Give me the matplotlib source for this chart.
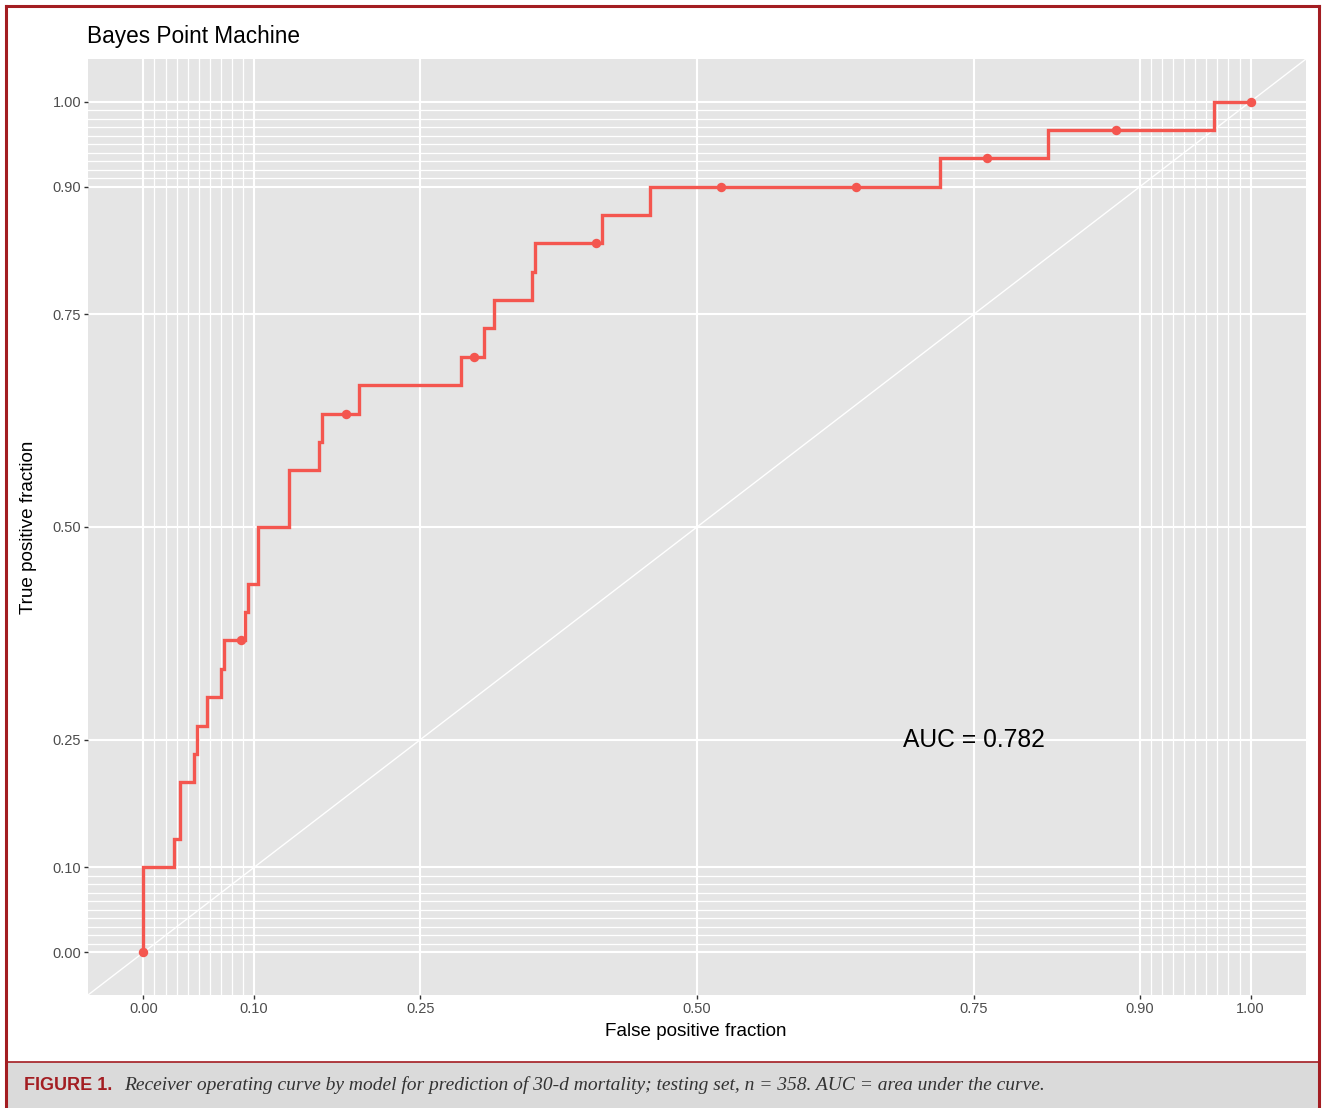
import numpy as np
import matplotlib.pyplot as plt
from matplotlib.patches import Rectangle
from matplotlib.lines import Line2D

plt.rcParams['font.family'] = ['Liberation Sans', 'DejaVu Sans']

# ROC curve: x where the curve steps up, y it reaches there
fpf_steps = [0.0, 0.0, 0.0274, 0.0335, 0.0457, 0.0488, 0.0579, 0.0701, 0.0732,
             0.0915, 0.0945, 0.1037, 0.1311, 0.1585, 0.1616, 0.1951, 0.2866,
             0.3079, 0.3171, 0.3506, 0.3537, 0.4146, 0.4573, 0.7195, 0.8171,
             0.9665, 1.0]
tpf_steps = [0.0, 0.1, 0.1333, 0.2, 0.2333, 0.2667, 0.3, 0.3333, 0.3667,
             0.4, 0.4333, 0.5, 0.5667, 0.6, 0.6333, 0.6667, 0.7, 0.7333,
             0.7667, 0.8, 0.8333, 0.8667, 0.9, 0.9333, 0.9667, 1.0, 1.0]

# cutoff markers along the curve
cut_fpf = [0.0, 0.0884, 0.1829, 0.2988, 0.4085, 0.5213, 0.6433, 0.7622, 0.878, 1.0]
cut_tpf = [0.0, 0.3667, 0.6333, 0.7, 0.8333, 0.9, 0.9, 0.9333, 0.9667, 1.0]

major_breaks = [0.0, 0.1, 0.25, 0.5, 0.75, 0.9, 1.0]
break_labels = ['0.00', '0.10', '0.25', '0.50', '0.75', '0.90', '1.00']
minor_breaks = [0.01, 0.02, 0.03, 0.04, 0.05, 0.06, 0.07, 0.08, 0.09,
                0.91, 0.92, 0.93, 0.94, 0.95, 0.96, 0.97, 0.98, 0.99]

auc_text = 'AUC = 0.782'
title = 'Bayes Point Machine'
caption = ('Receiver operating curve by model for prediction of 30-d mortality; '
           'testing set, n = 358. AUC = area under the curve.')

W, H = 1322, 1108
fig = plt.figure(figsize=(W / 100, H / 100), dpi=100)
fig.patch.set_facecolor('white')

def fx(px):
    return px / W

def fy(py):
    return 1 - py / H

ax = fig.add_axes([fx(88), fy(995), fx(1306) - fx(88), fy(59) - fy(995)])
ax.set_facecolor('#E5E5E5')
ax.set_xlim(-0.05, 1.05)
ax.set_ylim(-0.05, 1.05)
for s in ax.spines.values():
    s.set_visible(False)

ax.set_xticks(major_breaks)
ax.set_xticklabels(break_labels)
ax.set_yticks(major_breaks)
ax.set_yticklabels(break_labels)
ax.set_xticks(minor_breaks, minor=True)
ax.set_yticks(minor_breaks, minor=True)
ax.tick_params(which='major', length=3, width=1, color='#333333',
               labelcolor='#4D4D4D', labelsize=10.5, pad=2)
ax.tick_params(which='minor', length=0)
ax.grid(which='major', color='white', lw=1.5)
ax.grid(which='minor', color='white', lw=0.9)
ax.set_axisbelow(True)

ax.plot([-0.05, 1.05], [-0.05, 1.05], color='white', lw=1.0, zorder=1.5)

ax.step(fpf_steps, tpf_steps, where='post', color='#F4564F', lw=2.4,
        solid_joinstyle='miter', zorder=3)
ax.plot(cut_fpf, cut_tpf, 'o', color='#F4564F', ms=6.8, mec='none', zorder=4)

ax.text(0.75, 0.25, auc_text, fontsize=17.7, ha='center', va='center', color='black')

fig.text(fx(87), fy(36), title, fontsize=16.3, ha='left', va='center', color='black')
fig.text(fx(696), fy(1031), 'False positive fraction', fontsize=13.6,
         ha='center', va='center', color='black')
fig.text(fx(29), fy(527), 'True positive fraction', fontsize=13.6, rotation=90,
         ha='center', va='center', color='black')

# caption band and journal frame
red = '#A31D22'
fig.add_artist(Rectangle((fx(6), 0), fx(1319) - fx(6), fy(1062),
                         transform=fig.transFigure, facecolor='#DADADA',
                         edgecolor='none', zorder=0))
fig.add_artist(Line2D([fx(6), fx(1319)], [fy(1062), fy(1062)], color=red, lw=1.2))
fig.add_artist(Line2D([fx(6), fx(6)], [0, fy(6)], color=red, lw=2.2))
fig.add_artist(Line2D([fx(1319), fx(1319)], [0, fy(6)], color=red, lw=2.2))
fig.add_artist(Line2D([fx(6), fx(1319)], [fy(6), fy(6)], color=red, lw=2.2))

fig.text(fx(24), fy(1085), 'FIGURE 1.', fontsize=13, fontweight='bold', color=red,
         family=['Liberation Sans Narrow', 'Liberation Sans'], ha='left', va='center')
fig.text(fx(124), fy(1085), caption, fontsize=14, style='italic', color='#333333',
         family=['Liberation Serif', 'DejaVu Serif'], ha='left', va='center')

fig.savefig('out.png', dpi=100)
